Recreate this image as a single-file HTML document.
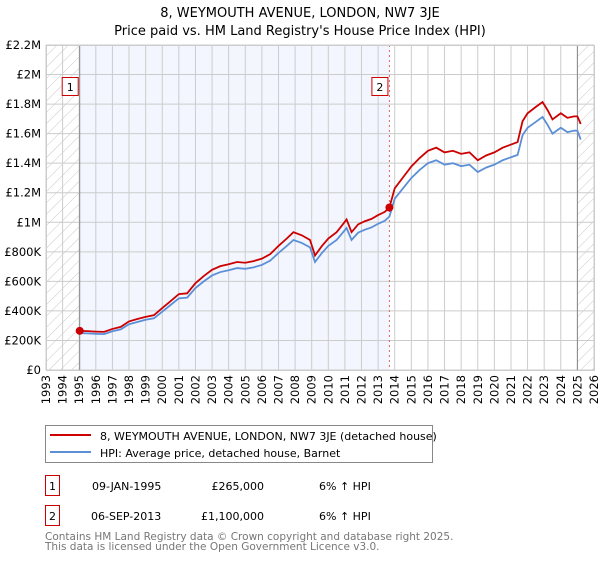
<!DOCTYPE html>
<html><head><meta charset="utf-8"><style>
body{margin:0;background:#fff;font-family:"Liberation Sans","DejaVu Sans",sans-serif;}
svg text{font-family:"DejaVu Sans","Liberation Sans",sans-serif;}
</style></head><body>
<svg id="chart" width="600" height="560" xmlns="http://www.w3.org/2000/svg">
<defs><pattern id="hatch" width="8" height="8" patternUnits="userSpaceOnUse" patternTransform="rotate(45)"><rect width="8" height="8" fill="#fff"/><line x1="0" y1="0" x2="0" y2="8" stroke="#c8c8c8" stroke-width="1"/></pattern></defs>
<text x="300" y="17" text-anchor="middle" font-size="13">8, WEYMOUTH AVENUE, LONDON, NW7 3JE</text>
<text x="300" y="35" text-anchor="middle" font-size="13">Price paid vs. HM Land Registry's House Price Index (HPI)</text>
<g id="plot"></g>
<g>
<rect x="45.5" y="425.5" width="387" height="37" fill="#fff" stroke="#888"/>
<line x1="50" y1="435" x2="91" y2="435" stroke="#cc0000" stroke-width="2"/>
<text x="100" y="440" font-size="11">8, WEYMOUTH AVENUE, LONDON, NW7 3JE (detached house)</text>
<line x1="50" y1="452" x2="91" y2="452" stroke="#5b8fd6" stroke-width="2"/>
<text x="100" y="457" font-size="11">HPI: Average price, detached house, Barnet</text>
</g>
<g font-size="11">
<rect x="45.5" y="475.5" width="14" height="20" fill="#fff" stroke="#cc0000"/><text x="52.5" y="490" text-anchor="middle">1</text>
<text x="92" y="490">09-JAN-1995</text><text x="264" y="490" text-anchor="end">£265,000</text><text x="319" y="490">6% ↑ HPI</text>
<rect x="45.5" y="505.5" width="14" height="20" fill="#fff" stroke="#cc0000"/><text x="52.5" y="520" text-anchor="middle">2</text>
<text x="91" y="520">06-SEP-2013</text><text x="264" y="520" text-anchor="end">£1,100,000</text><text x="319" y="520">6% ↑ HPI</text>
</g>
<text x="45" y="540" font-size="10.5" fill="#777">Contains HM Land Registry data © Crown copyright and database right 2025.</text>
<text x="45" y="550" font-size="10.5" fill="#777">This data is licensed under the Open Government Licence v3.0.</text>
</svg>
<script>
const years=[1995.0,1995.5,1996,1996.5,1997,1997.5,1998,1998.5,1999,1999.5,2000,2000.5,2001,2001.5,2002,2002.5,2003,2003.5,2004,2004.5,2005,2005.5,2006,2006.5,2007,2007.5,2007.9,2008.4,2008.9,2009.2,2009.6,2010,2010.5,2010.8,2011.1,2011.4,2011.8,2012.2,2012.6,2013,2013.4,2013.68,2014,2014.5,2015,2015.5,2016,2016.5,2017,2017.5,2018,2018.5,2019,2019.5,2020,2020.5,2021,2021.4,2021.7,2022,2022.5,2022.9,2023.2,2023.5,2024,2024.4,2024.8,2025.0,2025.2];
const hpi=[250,248,245,243,262,275,310,325,340,350,395,440,485,490,555,600,640,663,675,690,685,695,711,740,792,840,880,860,830,731,790,840,880,920,961,880,930,950,965,990,1010,1038,1160,1230,1300,1354,1400,1420,1390,1400,1380,1390,1340,1370,1390,1420,1440,1456,1590,1640,1680,1713,1660,1600,1640,1610,1620,1620,1560];
const price=[265,263,260,258,278,292,329,345,360,371,419,466,514,519,588,636,678,703,716,731,726,737,754,784,840,890,933,912,880,775,837,890,933,975,1019,933,986,1007,1023,1049,1070,1100,1230,1304,1378,1435,1484,1505,1473,1484,1463,1473,1420,1452,1473,1505,1526,1543,1685,1738,1781,1814,1760,1696,1738,1707,1717,1717,1665];
const yTicks=[0,200,400,600,800,1000,1200,1400,1600,1800,2000,2200];
const yTickLabels=["£0","£200K","£400K","£600K","£800K","£1M","£1.2M","£1.4M","£1.6M","£1.8M","£2M","£2.2M"];
const xTicks=[1993,1994,1995,1996,1997,1998,1999,2000,2001,2002,2003,2004,2005,2006,2007,2008,2009,2010,2011,2012,2013,2014,2015,2016,2017,2018,2019,2020,2021,2022,2023,2024,2025,2026];
const sales=[{year:1995.03,value:265,label:"1"},{year:2013.68,value:1100,label:"2"}];
const X0=46,X1=594,Y0=370,Y1=45;
const xs=y=>X0+(y-1993)/(2026-1993)*(X1-X0);
const ys=v=>Y0-v/2200*(Y0-Y1);
const NS="http://www.w3.org/2000/svg";
const g=document.getElementById('plot');
function mk(t,a){const e=document.createElementNS(NS,t);for(const k in a)e.setAttribute(k,a[k]);g.appendChild(e);return e;}
let e;
e=mk('rect',{x:X0,y:Y1,width:X1-X0,height:Y0-Y1,fill:'#fff'});


e=mk('rect',{x:X0,y:Y1,width:xs(sales[0].year)-X0,height:Y0-Y1,fill:'url(#hatch)'});


e=mk('rect',{x:xs(2025.0),y:Y1,width:X1-xs(2025.0),height:Y0-Y1,fill:'url(#hatch)'});


e=mk('rect',{x:xs(sales[0].year),y:Y1,width:xs(sales[1].year)-xs(sales[0].year),height:Y0-Y1,fill:'#f3f6fe'});


xTicks.forEach(t=>{
 e=mk('line',{x1:xs(t),x2:xs(t),y1:Y1,y2:Y0,stroke:'#cccccc','stroke-width':1});
 
 
 const tx=xs(t)+4, ty=Y0+5;
 e=mk('text',{x:tx,y:ty,'text-anchor':'end','font-size':11.5,transform:'rotate(-90 '+tx+' '+ty+')'});
 e.textContent=t;
 
 
});
yTicks.forEach((t,i)=>{
 e=mk('line',{x1:X0,x2:X1,y1:ys(t),y2:ys(t),stroke:'#cccccc','stroke-width':1});
 
 
 e=mk('text',{x:X0-5,y:ys(t)+4,'text-anchor':'end','font-size':11.5});
 e.textContent=yTickLabels[i];
 
 
});
e=mk('line',{x1:xs(sales[0].year),x2:xs(sales[0].year),y1:Y1,y2:Y0,stroke:'#888','stroke-width':1});


e=mk('line',{x1:xs(sales[1].year),x2:xs(sales[1].year),y1:Y1,y2:Y0,stroke:'#e06060','stroke-width':1,'stroke-dasharray':'2,3'});


e=mk('line',{x1:xs(2025.0),x2:xs(2025.0),y1:Y1,y2:Y0,stroke:'#888','stroke-width':1});


e=mk('polyline',{points:years.map((y,i)=>xs(y)+','+ys(hpi[i])).join(' '),fill:'none',stroke:'#5b8fd6','stroke-width':1.8});


e=mk('polyline',{points:years.map((y,i)=>xs(y)+','+ys(price[i])).join(' '),fill:'none',stroke:'#cc0000','stroke-width':1.8});


sales.forEach(s=>{
 e=mk('circle',{cx:xs(s.year),cy:ys(s.value),r:4,fill:'#cc0000'});
 
 
 e=mk('rect',{x:xs(s.year)-17.5,y:77.5,width:16,height:18,fill:'#fff',stroke:'#cc0000'});
 
 
 e=mk('text',{x:xs(s.year)-9.5,y:91,'text-anchor':'middle','font-size':11});
 e.textContent=s.label;
 
 
});
e=mk('rect',{x:X0+0.5,y:Y1+0.5,width:X1-X0,height:Y0-Y1,fill:'none',stroke:'#cccccc'});


</script>
</body></html>
